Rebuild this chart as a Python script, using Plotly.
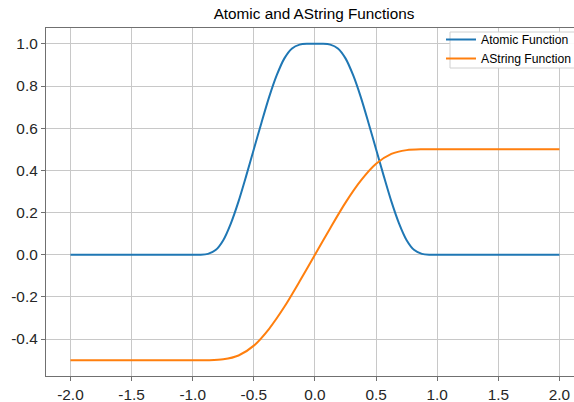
import plotly.graph_objects as go

# Atomic function up(x) sampled on a 1/16 grid over its support, flat outside
atomic_x = [-2.0, -1.0, -0.9375, -0.875, -0.8125, -0.75, -0.6875, -0.625, -0.5625,
            -0.5, -0.4375, -0.375, -0.3125, -0.25, -0.1875, -0.125, -0.0625, 0.0,
            0.0625, 0.125, 0.1875, 0.25, 0.3125, 0.375, 0.4375, 0.5, 0.5625,
            0.625, 0.6875, 0.75, 0.8125, 0.875, 0.9375, 1.0, 2.0]
atomic_y = [0.0, 0.0, 0.0, 0.004, 0.022, 0.069, 0.149, 0.253, 0.374,
            0.5, 0.626, 0.747, 0.851, 0.931, 0.978, 0.996, 1.0, 1.0,
            1.0, 0.996, 0.978, 0.931, 0.851, 0.747, 0.626, 0.5, 0.374,
            0.253, 0.149, 0.069, 0.022, 0.004, 0.0, 0.0, 0.0]

# AString function sampled on a 1/8 grid, constant at -0.5 / 0.5 outside [-1, 1]
astring_x = [-2.0, -1.0, -0.875, -0.75, -0.625, -0.5, -0.375, -0.25, -0.125, 0.0,
             0.125, 0.25, 0.375, 0.5, 0.625, 0.75, 0.875, 1.0, 2.0]
astring_y = [-0.5, -0.5, -0.5, -0.496, -0.478, -0.431, -0.351, -0.247, -0.126, 0.0,
             0.126, 0.247, 0.351, 0.431, 0.478, 0.496, 0.5, 0.5, 0.5]

x_ticks = [-2.0, -1.5, -1.0, -0.5, 0.0, 0.5, 1.0, 1.5, 2.0]
x_labels = ["-2.0", "-1.5", "-1.0", "-0.5", "0.0", "0.5", "1.0", "1.5", "2.0"]
y_ticks = [-0.4, -0.2, 0.0, 0.2, 0.4, 0.6, 0.8, 1.0]
y_labels = ["-0.4", "-0.2", "0.0", "0.2", "0.4", "0.6", "0.8", "1.0"]

FONT = "Liberation Sans, Arial, sans-serif"
L, T, PW, PH = 46, 28, 528, 348  # plot area in pixels

fig = go.Figure()
fig.add_trace(go.Scatter(x=atomic_x, y=atomic_y, mode="lines", name="Atomic Function",
                         line=dict(color="#1f77b4", width=2, shape="spline", smoothing=0.8)))
fig.add_trace(go.Scatter(x=astring_x, y=astring_y, mode="lines", name="AString Function",
                         line=dict(color="#ff7f0e", width=2, shape="spline", smoothing=0.8)))

# legend frame (white box over the grid)
fig.add_shape(type="rect", xref="paper", yref="paper", layer="above",
              x0=(450 - L) / PW, x1=(590 - L) / PW,
              y0=1 - (68 - T) / PH, y1=1 - (32 - T) / PH,
              fillcolor="rgba(255,255,255,0.9)", line=dict(color="#d0d0d0", width=1))

fig.update_layout(
    width=574, height=402,
    margin=dict(l=L, r=0, t=T, b=26, autoexpand=False),
    paper_bgcolor="white", plot_bgcolor="white",
    font=dict(family=FONT, color="#262626"),
    title=dict(text="Atomic and AString Functions", x=(314 / 574), xanchor="center",
               y=1 - 14 / 402, yanchor="middle", font=dict(size=15.3, color="#000000")),
    showlegend=True,
    legend=dict(x=(441 - L) / PW, y=1 + (T - 25) / PH, xanchor="left", yanchor="top",
                bgcolor="rgba(0,0,0,0)", borderwidth=0,
                font=dict(size=12.2, color="#000000"), itemwidth=30,
                tracegroupgap=0),
)
fig.update_xaxes(
    range=[-2.2, 2.119], tickvals=x_ticks, ticktext=x_labels, automargin=False,
    showgrid=True, gridcolor="#c8c8c8", gridwidth=1, zeroline=False,
    showline=True, linecolor="#707070", linewidth=1.3, mirror=True,
    ticks="outside", ticklen=4, tickcolor="#707070",
    tickfont=dict(size=15.4, color="#262626"),
)
fig.update_yaxes(
    range=[-0.575, 1.075], tickvals=y_ticks, ticktext=y_labels, automargin=False,
    showgrid=True, gridcolor="#c8c8c8", gridwidth=1, zeroline=False,
    showline=True, linecolor="#707070", linewidth=1.3,
    ticks="outside", ticklen=4, tickcolor="#707070",
    tickfont=dict(size=15.4, color="#262626"),
)

fig.write_html("out.html")
